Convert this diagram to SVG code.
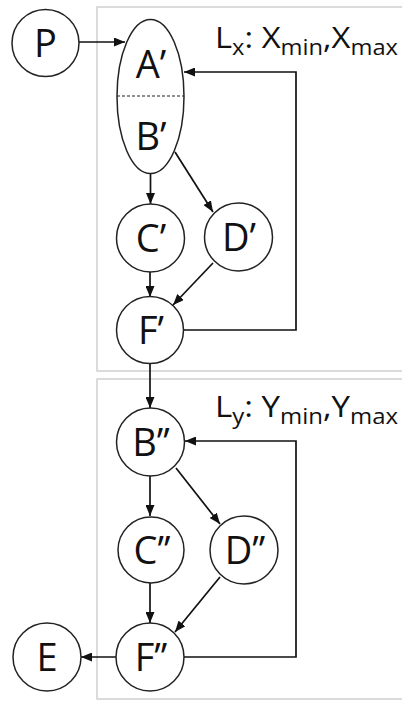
<svg xmlns="http://www.w3.org/2000/svg" width="402" height="701" viewBox="0 0 402 701">
<defs>
<marker id="ah" viewBox="0 0 11 9" refX="11" refY="4.5" markerWidth="11" markerHeight="9" markerUnits="userSpaceOnUse" orient="auto">
<path d="M0,0 L11,4.5 L0,9 Z" fill="#111"/>
</marker>
</defs>
<style>
.box{fill:none;stroke:#cfcfcf;stroke-width:1.5}
.n{fill:#fff;stroke:#222;stroke-width:1.5}
.t{font-family:"Open Sans","Liberation Sans",Arial,sans-serif;font-size:38px;fill:#111;text-anchor:middle}
.lbl{font-family:"Open Sans","Liberation Sans",Arial,sans-serif;font-size:29px;fill:#111}
.sub{font-size:21px}
.c{fill:none;stroke:#111;stroke-width:1.7;marker-end:url(#ah)}
</style>
<rect class="box" x="97" y="7" width="330" height="364"/>
<rect class="box" x="97" y="379" width="330" height="320"/>
<text class="lbl" x="215" y="48" textLength="183" lengthAdjust="spacingAndGlyphs">L<tspan class="sub" dy="7">x</tspan><tspan dy="-7">: X</tspan><tspan class="sub" dy="7">min</tspan><tspan dy="-7">,X</tspan><tspan class="sub" dy="7">max</tspan></text>
<text class="lbl" x="215" y="417" textLength="183" lengthAdjust="spacingAndGlyphs">L<tspan class="sub" dy="7">y</tspan><tspan dy="-7">: Y</tspan><tspan class="sub" dy="7">min</tspan><tspan dy="-7">,Y</tspan><tspan class="sub" dy="7">max</tspan></text>
<g id="connectors">
<path class="c" d="M79,42 H125"/>
<path class="c" d="M184,330 H296 V72 H184"/>
<path class="c" d="M150.5,173.5 V204"/>
<path class="c" d="M175,152 L213,212"/>
<path class="c" d="M150,272 V297"/>
<path class="c" d="M213,263 L173,305"/>
<path class="c" d="M150,363 V408"/>
<path class="c" d="M184,657 H296 V441 H185"/>
<path class="c" d="M150,476 V516"/>
<path class="c" d="M176,468 L220,524"/>
<path class="c" d="M150,583 V623"/>
<path class="c" d="M220,577 L175,632"/>
<path class="c" d="M116,657 H81"/>
</g>
<g id="P"><circle class="n" cx="45.5" cy="43" r="33.5"/><text class="t" x="45.5" y="57">P</text></g>
<g id="AB1"><ellipse class="n" cx="150.5" cy="96.5" rx="33.5" ry="77"/>
<line x1="117" y1="96" x2="184" y2="96" stroke="#222" stroke-width="1.2" stroke-dasharray="3,2"/>
<text class="t" x="151" y="78">A’</text><text class="t" x="151" y="150">B’</text></g>
<g id="C1"><circle class="n" cx="150.5" cy="238" r="34"/><text class="t" x="151" y="252">C’</text></g>
<g id="D1"><circle class="n" cx="238.5" cy="237" r="34"/><text class="t" x="239" y="251">D’</text></g>
<g id="F1"><circle class="n" cx="150" cy="330" r="33.5"/><text class="t" x="151" y="344">F’</text></g>
<g id="B2"><circle class="n" cx="150.5" cy="442" r="34"/><text class="t" x="151" y="456">B’’</text></g>
<g id="C2"><circle class="n" cx="151" cy="550" r="33"/><text class="t" x="152" y="564">C’’</text></g>
<g id="D2"><circle class="n" cx="244" cy="550" r="34"/><text class="t" x="245" y="564">D’’</text></g>
<g id="F2"><circle class="n" cx="150" cy="657" r="34"/><text class="t" x="151" y="671">F’’</text></g>
<g id="E"><circle class="n" cx="47" cy="657" r="34"/><text class="t" x="47" y="671">E</text></g>
</svg>
